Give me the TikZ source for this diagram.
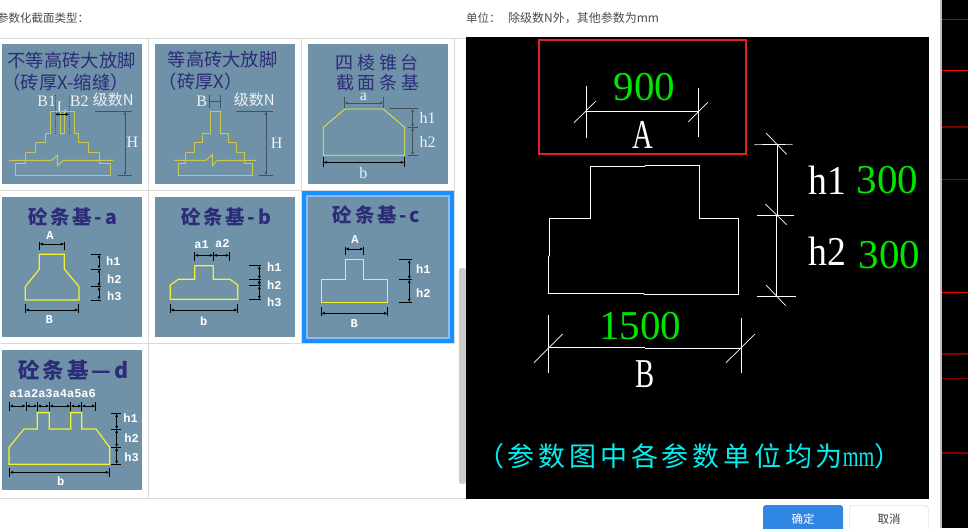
\documentclass[tikz,border=0pt]{standalone}
\usepackage{fontspec}
\setmainfont{Liberation Serif}
\newfontfamily\cjk{Noto Sans CJK SC}
\newfontfamily\cjkwide[LetterSpace=14]{Noto Sans CJK SC}
\newfontfamily\cjkair[LetterSpace=20]{Noto Sans CJK SC}
\newfontfamily\cadnarrow[FakeStretch=0.7]{Liberation Serif}
\newfontfamily\cadlatin[FakeStretch=0.92]{Liberation Serif}
\newfontfamily\labelmono{Liberation Mono}
\usetikzlibrary{arrows.meta}
\definecolor{panelblue}{HTML}{6F92A8}
\definecolor{titlenavy}{HTML}{2C2C78}
\definecolor{sketchyellow}{HTML}{C9C94E}
\definecolor{solidyellow}{HTML}{F2F22E}
\definecolor{dimgrey}{HTML}{44525E}
\definecolor{gridgrey}{HTML}{D9D9D9}
\definecolor{selblue}{HTML}{1890FF}
\definecolor{sellight}{HTML}{8FBBF5}
\definecolor{cadgreen}{HTML}{00E600}
\definecolor{cadcyan}{HTML}{00F0F0}
\definecolor{boxred}{HTML}{E0202A}
\definecolor{okblue}{HTML}{2F86E3}
\tikzset{
    panel/.style={fill=panelblue,draw=none},
    grid/.style={draw=gridgrey,line width=1pt},
    sketch/.style={draw=sketchyellow,line width=1pt},
    solid outline/.style={draw=solidyellow,line width=1.2pt},
    greydim/.style={draw=dimgrey,line width=0.9pt},
    blackdim/.style={draw=black,line width=0.7pt},
    arrowed/.style={{Latex[length=3.5pt,width=3pt]}-{Latex[length=3.5pt,width=3pt]}},
    cad/.style={draw=white,line width=0.7pt},
    title/.style={text=titlenavy,font=\cjk\fontsize{18.3}{18.3}\selectfont,inner sep=0pt},
    bigtitle/.style={text=titlenavy,font=\cjkwide\bfseries\fontsize{19.5}{19.5}\selectfont,inner sep=0pt},
    pale/.style={text=white!88!panelblue,font=\fontsize{16}{16}\selectfont,inner sep=0pt},
    palecn/.style={text=white!88!panelblue,font=\cjk\fontsize{15}{15}\selectfont,inner sep=0pt},
    boldlabel/.style={text=white,font=\labelmono\bfseries\fontsize{12}{12}\selectfont,inner sep=0pt},
    cadvalue/.style={text=cadgreen,font=\fontsize{41}{41}\selectfont,inner sep=0pt},
    cadname/.style={text=white,font=\cadnarrow\fontsize{41}{41}\selectfont,inner sep=0pt},
    cadlow/.style={text=white,font=\cadlatin\fontsize{41}{41}\selectfont,inner sep=0pt},
    uitext/.style={text=black!70,font=\cjk\fontsize{11.5}{12}\selectfont,inner sep=0pt},
    zoomed/.style={x=0.33333pt,y=-0.33333pt},
}
\begin{document}
\begin{tikzpicture}[x=1pt,y=-1pt]
    \useasboundingbox (0,0) rectangle (968,528);
    \fill[white] (0,0) rectangle (968,528);

    % grid of the list
    \draw[grid] (0,38)--(466,38);
    \draw[grid] (0,190.5)--(455,190.5);
    \draw[grid] (0,343.5)--(455,343.5);
    \draw[grid] (0,498.5)--(929,498.5);
    \draw[grid] (148.5,38)--(148.5,498);
    \draw[grid] (301.5,38)--(301.5,343);
    \draw[grid] (454.5,38)--(454.5,343);
    \fill[black!20,rounded corners=2.5pt] (459,268) rectangle (466,484);

    % tiles
    \fill[panel] (2,44) rectangle (142,184);
    \fill[panel] (155,44) rectangle (295,184);
    \fill[panel] (308,44) rectangle (448,184);
    \fill[panel] (2,197) rectangle (142,337);
    \fill[panel] (155,197) rectangle (295,337);
    \draw[selblue,line width=4pt] (304,193) rectangle (452,341);
    \draw[sellight,line width=2pt] (307,196) rectangle (449,338);
    \fill[panel] (308,197) rectangle (448,337);
    \fill[panel] (2,350) rectangle (142,490);

    % first row
    \begin{scope}[zoomed]
        \node[title] (t1a) at (215,183) {不等高砖大放脚};
        \node[title] (t1b) at (197,248) {（砖厚X-缩缝）};
        \node[pale] (b1) at (140,305) {B1};
        \node[pale] (l1) at (185,322) {L};
        \node[pale] (b2) at (238,305) {B2};
        \node[palecn] (n1) at (340,300) {级数N};
        \node[pale] (h1) at (397,428) {H};
        \draw[sketch] (152,335)--(222,335)--(222,400)--(235,400)--(235,427)--(265,427)--(265,458)--(298,458)--(298,490)--(330,490)--(330,526)--(45,526)--(45,490)--(75,490)--(75,458)--(107,458)--(107,427)--(137,427)--(137,400)--(152,400)--cycle;
        \draw[sketch] (180,335)--(180,400)--(192,400)--(192,335);
        \draw[sketch] (27,481)--(155,481)--(172,466)--(172,497)--(190,481)--(340,481);
        \draw[greydim] (285,333)--(395,333);
        \draw[greydim] (353,526)--(397,526);
        \draw[greydim,arrowed] (375,333)--(375,526);
        \draw[blackdim,arrowed] (165,343)--(208,343);
        \draw[greydim,densely dotted] (167,285)--(167,402);
        \draw[greydim,densely dotted] (207,285)--(207,402);

        \node[title] (t2a) at (668,180) {等高砖大放脚};
        \node[title] (t2b) at (602,245) {（砖厚X）};
        \node[pale] (b3) at (605,305) {B};
        \node[palecn] (n2) at (763,300) {级数N};
        \node[pale] (h2) at (830,430) {H};
        \draw[sketch] (630,333)--(662,333)--(662,400)--(684,400)--(684,427)--(708,427)--(708,458)--(733,458)--(733,490)--(758,490)--(758,526)--(535,526)--(535,490)--(557,490)--(557,458)--(582,458)--(582,427)--(608,427)--(608,400)--(630,400)--cycle;
        \draw[sketch] (523,481)--(618,481)--(637,464)--(637,497)--(652,481)--(768,481);
        \draw[greydim] (628,285)--(628,325);
        \draw[greydim] (662,285)--(662,325);
        \draw[greydim] (628,305)--(662,305);
        \draw[greydim] (708,333)--(820,333);
        \draw[greydim] (778,526)--(820,526);
        \draw[greydim,arrowed] (798,333)--(798,526);

        \node[title,font=\cjkair\fontsize{18}{18}\selectfont] (t3a) at (1132,187) {四棱锥台};
        \node[title,font=\cjkair\fontsize{18}{18}\selectfont] (t3b) at (1133,247) {截面条基};
        \node[pale] (a3) at (1090,290) {a};
        \node[pale] (h31) at (1283,355) {h1};
        \node[pale] (h32) at (1283,425) {h2};
        \node[pale] (b33) at (1090,520) {b};
        \draw[solid outline,line width=0.7pt] (1035,327)--(1150,327)--(1214,382)--(1214,466)--(970,466)--(970,382)--cycle;
        \draw[greydim] (1033,292)--(1033,325);
        \draw[greydim] (1150,292)--(1150,325);
        \draw[greydim,arrowed] (1033,309)--(1150,309);
        \foreach \y/\x in {326/1168,382/1225,466/1225}
            \draw[greydim] (\x,\y)--(1255,\y);
        \draw[greydim,arrowed] (1238,326)--(1238,382);
        \draw[greydim,arrowed] (1238,382)--(1238,466);
        \draw[blackdim] (970,470)--(970,500);
        \draw[blackdim] (1213,470)--(1213,500);
        \draw[blackdim,arrowed] (970,487)--(1213,487);
    \end{scope}

    % second row
    \begin{scope}[shift={(0,190)},zoomed]
        \node[bigtitle] (ta) at (218,80) {砼条基-a};
        \node[boldlabel] (aA) at (150,137) {A};
        \node[boldlabel] (ah1) at (340,212) {h1};
        \node[boldlabel] (ah2) at (343,266) {h2};
        \node[boldlabel] (ah3) at (343,320) {h3};
        \node[boldlabel] (aB) at (148,390) {B};
        \draw[solid outline] (118,193)--(193,193)--(193,237)--(237,290)--(237,330)--(76,330)--(76,290)--(118,237)--cycle;
        \draw[blackdim] (118,155)--(118,180);
        \draw[blackdim] (193,155)--(193,180);
        \draw[blackdim,arrowed] (118,162)--(193,162);
        \foreach \y in {193,237,290,330}
            \draw[blackdim] (272,\y)--(303,\y);
        \draw[blackdim,arrowed] (297,193)--(297,237);
        \draw[blackdim,arrowed] (297,237)--(297,290);
        \draw[blackdim,arrowed] (297,290)--(297,330);
        \draw[blackdim] (76,343)--(76,368);
        \draw[blackdim] (235,343)--(235,368);
        \draw[blackdim,arrowed] (76,360)--(235,360);

        \node[bigtitle] (tb) at (678,80) {砼条基-b};
        \node[boldlabel] (ba1) at (605,165) {a1};
        \node[boldlabel] (ba2) at (667,162) {a2};
        \node[boldlabel] (bh1) at (823,232) {h1};
        \node[boldlabel] (bh2) at (823,285) {h2};
        \node[boldlabel] (bh3) at (823,338) {h3};
        \node[boldlabel] (bb) at (611,393) {b};
        \draw[solid outline] (584,227)--(640,227)--(640,268)--(690,268)--(713,285)--(713,328)--(511,328)--(511,285)--(535,268)--(584,268)--cycle;
        \foreach \x in {584,640,688}
            \draw[blackdim] (\x,187)--(\x,213);
        \draw[blackdim,arrowed] (584,196)--(640,196);
        \draw[blackdim,arrowed] (640,196)--(688,196);
        \foreach \y in {227,268,287,328}
            \draw[blackdim] (748,\y)--(783,\y);
        \draw[blackdim,arrowed] (778,227)--(778,268);
        \draw[blackdim,arrowed] (778,268)--(778,287);
        \draw[blackdim,arrowed] (778,287)--(778,328);
        \draw[blackdim] (511,343)--(511,370);
        \draw[blackdim] (713,343)--(713,370);
        \draw[blackdim,arrowed] (511,360)--(713,360);

        \node[bigtitle] (tc) at (1130,75) {砼条基-c};
        \node[boldlabel] (cA) at (1065,148) {A};
        \node[boldlabel] (ch1) at (1270,238) {h1};
        \node[boldlabel] (ch2) at (1270,310) {h2};
        \node[boldlabel] (cB) at (1063,400) {B};
        \draw[solid outline] (1036,209)--(1090,209)--(1090,268)--(1163,268)--(1163,337)--(964,337)--(964,268)--(1036,268)--cycle;
        \draw[blackdim] (1036,170)--(1036,195);
        \draw[blackdim] (1090,170)--(1090,195);
        \draw[blackdim,arrowed] (1036,177)--(1090,177);
        \foreach \y in {209,268,337}
            \draw[blackdim] (1198,\y)--(1235,\y);
        \draw[blackdim,arrowed] (1228,209)--(1228,268);
        \draw[blackdim,arrowed] (1228,268)--(1228,337);
        \draw[blackdim] (964,352)--(964,378);
        \draw[blackdim] (1163,352)--(1163,378);
        \draw[blackdim,arrowed] (964,370)--(1163,370);
    \end{scope}

    % third row
    \begin{scope}[shift={(0,340)},zoomed]
        \node[bigtitle,font=\cjkwide\bfseries\fontsize{21.5}{21.5}\selectfont] (td) at (220,92) {砼条基—d};
        \node[boldlabel] (da) at (158,162) {a1a2a3a4a5a6};
        \node[boldlabel] (dh1) at (392,235) {h1};
        \node[boldlabel] (dh2) at (395,293) {h2};
        \node[boldlabel] (dh3) at (395,352) {h3};
        \node[boldlabel] (db) at (182,423) {b};
        \draw[solid outline] (27,373)--(27,322)--(72,267)--(112,267)--(112,218)--(148,218)--(148,267)--(212,267)--(212,218)--(245,218)--(245,267)--(288,267)--(329,322)--(329,373)--cycle;
        \foreach \x in {29,78,112,148,212,245,287}
            \draw[blackdim] (\x,185)--(\x,213);
        \foreach \p/\q in {29/78,78/112,112/148,148/212,212/245,245/287}
            \draw[blackdim,arrowed] (\p,198)--(\q,198);
        \foreach \y in {220,268,322,373}
            \draw[blackdim] (333,\y)--(362,\y);
        \draw[blackdim,arrowed] (350,220)--(350,268);
        \draw[blackdim,arrowed] (350,268)--(350,322);
        \draw[blackdim,arrowed] (350,322)--(350,373);
        \draw[blackdim] (29,385)--(29,412);
        \draw[blackdim] (328,385)--(328,412);
        \draw[blackdim,arrowed] (29,397)--(328,397);
    \end{scope}

    % the preview
    \fill[black] (466,37) rectangle (929,499);
    \begin{scope}[shift={(500,30)},zoomed]
        \draw[draw=boxred,line width=2pt] (116,29) rectangle (739,373);
        \node[cadvalue] (va) at (433,170) {900};
        \node[cadname] (na) at (430,315) {A};
        \draw[cad] (260,243)--(595,243);
        \draw[cad] (260,168)--(260,323);
        \draw[cad] (595,175)--(595,320);
        \draw[cad] (222,278)--(288,213);
        \draw[cad] (565,275)--(623,217);

        \draw[cad,line cap=round] (272,409)--(435,409);
        \draw[cad,line cap=round] (435,406)--(598,406)--(598,565)--(716,565)--(716,793)--(432,793);
        \draw[cad,line cap=round] (432,790)--(145,790)--(145,678);
        \draw[cad,line cap=round] (148,678)--(148,565)--(272,565)--(272,409);

        \draw[cad] (763,344)--(878,343);
        \draw[cad] (771,556)--(881,556);
        \draw[cad] (771,799)--(888,799);
        \draw[cad] (832,343)--(832,556);
        \draw[cad] (829,556)--(829,799);
        \draw[cad] (798,309)--(860,373);
        \draw[cad] (796,522)--(860,584);
        \draw[cad] (798,765)--(857,827);
        \node[cadlow] (nh1) at (982,452) {h1};
        \node[cadvalue] (vh1) at (1163,450) {300};
        \node[cadlow] (nh2) at (982,665) {h2};
        \node[cadvalue] (vh2) at (1168,675) {300};

        \draw[cad] (145,953)--(435,953);
        \draw[cad] (435,955)--(724,955);
        \draw[cad] (145,855)--(145,1030);
        \draw[cad] (724,865)--(724,1028);
        \draw[cad] (102,998)--(188,912);
        \draw[cad] (678,998)--(765,912);
        \node[cadvalue] (vb) at (420,888) {1500};
        \node[cadname] (nb) at (435,1032) {B};
    \end{scope}
    \node[text=cadcyan,font=\cjkwide\fontsize{27}{27}\selectfont,inner sep=0pt,anchor=west] (note) at (477,456) {（参数图中各参数单位均为{\cadnarrow\fontsize{29}{29}\selectfont mm}）};

    % texts of the dialog
    \begin{scope}
        \clip (0,0) rectangle (968,528);
        \node[uitext,anchor=west] (cap) at (-3,18) {参数化截面类型：};
    \end{scope}
    \node[uitext,anchor=west] (unit) at (466,18) {单位：};
    \node[uitext,anchor=west,font=\cjk\fontsize{12}{12}\selectfont] (unitnote) at (508,18) {除级数N外，其他参数为mm};

    % buttons
    \fill[okblue,rounded corners=3pt] (763,505) rectangle (843,535);
    \draw[black!20,rounded corners=3pt] (849.5,505.5) rectangle (928.5,535);
    \node[text=white,font=\cjk\fontsize{11.5}{12}\selectfont,inner sep=0pt] (ok) at (803,519) {确定};
    \node[text=black!75,font=\cjk\fontsize{11.5}{12}\selectfont,inner sep=0pt] (cancel) at (889,519) {取消};

    % window behind
    \fill[black] (942,0) rectangle (968,528);
    \draw[black!25,line width=1.2pt] (941,0)--(941,528);
    \foreach \y/\c/\w in {19/green!35!black/1,70/red/1,127/red!50!black/2,179/red!60!black/1,292/red/1,354/red!50!black/2,378/red!50!black/1,453/red!50!black/1.5}
        \draw[draw=\c,line width=\w pt] (942,\y)--(968,\y);
\end{tikzpicture}
\end{document}
